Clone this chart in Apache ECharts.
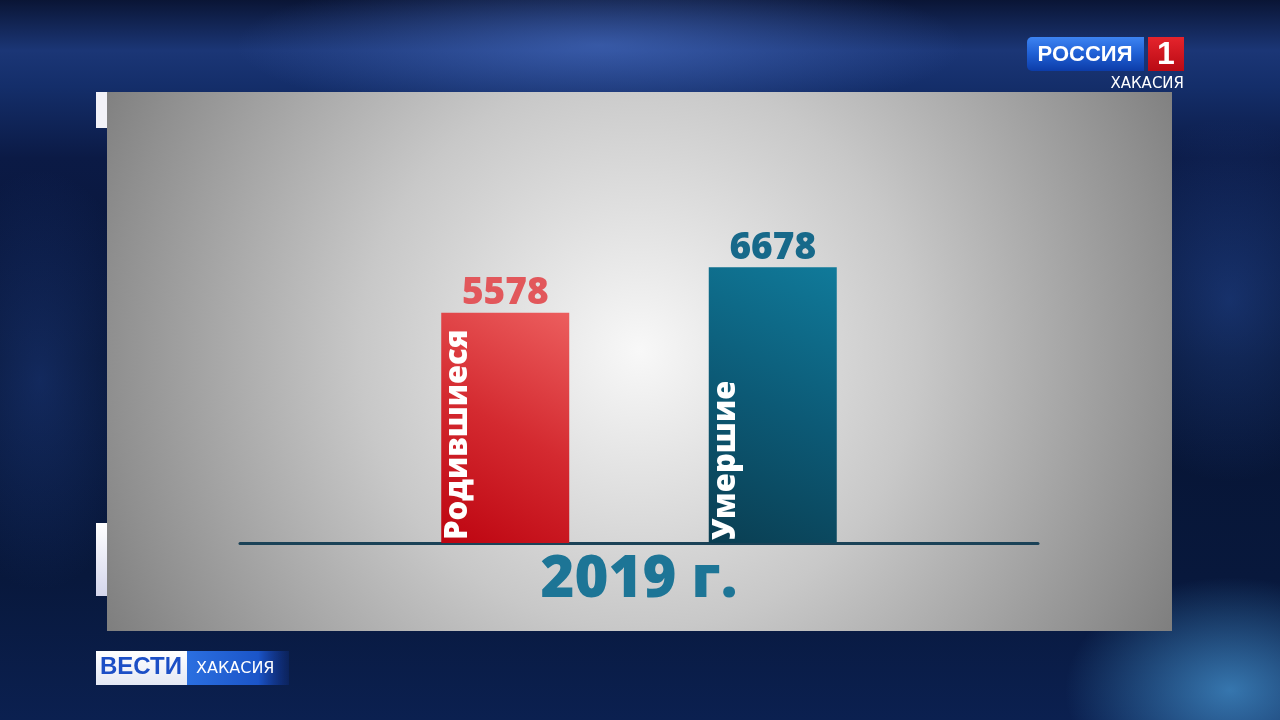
<!DOCTYPE html>
<html><head><meta charset="utf-8">
<script src="https://cdn.jsdelivr.net/npm/echarts@6/dist/echarts.min.js"></script>
<style>
html,body{margin:0;padding:0;width:1280px;height:720px;overflow:hidden;}
body{background:
 radial-gradient(ellipse 220px 150px at 1230px 690px, rgba(90,190,255,0.55), rgba(20,60,150,0) 75%),
 radial-gradient(ellipse 520px 110px at 600px 45px, rgba(80,120,210,0.55), rgba(0,0,0,0) 70%),
 radial-gradient(ellipse 200px 260px at 1230px 300px, rgba(50,100,200,0.35), rgba(0,0,0,0) 70%),
 radial-gradient(ellipse 160px 300px at 40px 380px, rgba(40,80,170,0.35), rgba(0,0,0,0) 70%),
 linear-gradient(180deg,#0a1535 0%,#1b3676 7%,#142e6a 12%,#0b1a45 22%,#071433 50%,#08183c 80%,#0b2050 100%);}
#chart{width:1280px;height:720px;}
</style></head><body><div id="chart"></div>
<script>
const categories = ['2019 г.'];
const seriesNames = ['Родившиеся', 'Умершие'];
const bornValues = [5578];
const diedValues = [6678];

const FONT = '"Open Sans", "Liberation Sans", sans-serif';
const chart = echarts.init(document.getElementById('chart'), null, {renderer: 'canvas'});

function grad(stops) {
  return new echarts.graphic.LinearGradient(1, 0, 0, 1, stops.map((c, i) => ({offset: i / (stops.length - 1), color: c})));
}

function makeSeries(name, data, barColor, valueColor) {
  return {
    name: name,
    type: 'bar',
    data: data,
    barWidth: 128,
    barGap: '109%',
    itemStyle: {color: barColor},
    label: {
      show: true,
      position: 'insideBottom',
      rotate: 90,
      align: 'left',
      verticalAlign: 'middle',
      distance: 3,
      offset: [0, -47],
      formatter: (p) => p.seriesName,
      color: '#ffffff',
      fontSize: 31,
      fontWeight: 800,
      fontFamily: FONT
    },
    markPoint: {
      symbol: 'rect',
      symbolSize: 1,
      itemStyle: {color: 'rgba(0,0,0,0)'},
      data: [{type: 'max'}],
      label: {
        show: true,
        position: 'top',
        distance: 0,
        formatter: (p) => String(p.value),
        color: valueColor,
        fontSize: 37,
        fontWeight: 800,
        fontFamily: FONT
      }
    }
  };
}

const option = {
  animation: false,
  backgroundColor: 'transparent',
  grid: {left: 240, right: 242, top: 93, bottom: 177},
  xAxis: {
    type: 'category',
    data: categories,
    axisLine: {lineStyle: {color: '#1b4257', width: 3}},
    axisTick: {show: false},
    axisLabel: {
      margin: 8,
      color: '#1d7596',
      fontSize: 58,
      fontWeight: 800,
      fontFamily: FONT
    }
  },
  yAxis: {
    type: 'value',
    min: 0,
    max: 10900,
    show: false,
    splitLine: {show: false}
  },
  graphic: [
    {
      type: 'rect', z: -10, silent: true,
      shape: {x: 107, y: 92, width: 1065, height: 539},
      style: {
        fill: new echarts.graphic.RadialGradient(0.5, 0.48, 1.15, [
          {offset: 0, color: '#f8f8f8'},
          {offset: 0.15, color: '#e8e8e8'},
          {offset: 0.45, color: '#c8c8c8'},
          {offset: 0.85, color: '#909090'},
          {offset: 1, color: '#7a7a7a'}
        ])
      }
    },
    {type: 'rect', z: -10, silent: true, shape: {x: 96, y: 92, width: 11, height: 36}, style: {fill: '#f2f2f8'}},
    {type: 'rect', z: -10, silent: true, shape: {x: 96, y: 523, width: 11, height: 73},
      style: {fill: new echarts.graphic.LinearGradient(0, 0, 0, 1, [{offset: 0, color: '#ffffff'}, {offset: 1, color: '#d4d6ec'}])}},
    // Россия 1 logo
    {type: 'rect', z: 10, silent: true, shape: {x: 1027, y: 37, width: 117, height: 34, r: [5, 0, 0, 5]},
      style: {fill: new echarts.graphic.LinearGradient(0, 0, 0, 1, [{offset: 0, color: '#3d84f2'}, {offset: 0.5, color: '#1f5fd4'}, {offset: 1, color: '#0c3ca8'}])}},
    {type: 'text', z: 11, silent: true, style: {x: 1085, y: 55, text: 'РОССИЯ', fill: '#ffffff', align: 'center', verticalAlign: 'middle', font: 'bold 22px "Liberation Sans", sans-serif'}},
    {type: 'rect', z: 10, silent: true, shape: {x: 1148, y: 37, width: 36, height: 34},
      style: {fill: new echarts.graphic.LinearGradient(0, 0, 0, 1, [{offset: 0, color: '#e5242c'}, {offset: 1, color: '#b90a14'}])}},
    {type: 'text', z: 11, silent: true, style: {x: 1166, y: 55, text: '1', fill: '#ffffff', align: 'center', verticalAlign: 'middle', font: 'bold 32px "Liberation Sans", sans-serif'}},
    {type: 'text', z: 11, silent: true, style: {x: 1184, y: 84, text: 'ХАКАСИЯ', fill: '#ffffff', align: 'right', verticalAlign: 'middle', font: '15px "DejaVu Sans", sans-serif'}},
    // Вести logo
    {type: 'rect', z: 10, silent: true, shape: {x: 187, y: 651, width: 102, height: 34},
      style: {fill: new echarts.graphic.LinearGradient(0, 0, 1, 0, [{offset: 0, color: '#2b6fe0'}, {offset: 0.7, color: '#1b55c8'}, {offset: 1, color: 'rgba(20,60,170,0.2)'}])}},
    {type: 'rect', z: 10, silent: true, shape: {x: 96, y: 651, width: 91, height: 34},
      style: {fill: new echarts.graphic.LinearGradient(0, 0, 0, 1, [{offset: 0, color: '#ffffff'}, {offset: 1, color: '#e4e8f4'}])}},
    {type: 'text', z: 11, silent: true, style: {x: 141, y: 667, text: 'ВЕСТИ', fill: '#1c4fc6', align: 'center', verticalAlign: 'middle', font: 'bold 24px "Liberation Sans Narrow", "Liberation Sans", sans-serif'}},
    {type: 'text', z: 11, silent: true, style: {x: 196, y: 669, text: 'ХАКАСИЯ', fill: '#ffffff', align: 'left', verticalAlign: 'middle', font: '16px "DejaVu Sans", sans-serif'}}
  ],
  series: [
    makeSeries(seriesNames[0], bornValues, grad(['#ec5e5e', '#d42a30', '#bd0410']), '#e2575b'),
    makeSeries(seriesNames[1], diedValues, grad(['#107a9a', '#0c5a76', '#0a3e52']), '#17698a')
  ]
};
chart.setOption(option);
</script>
</body></html>
